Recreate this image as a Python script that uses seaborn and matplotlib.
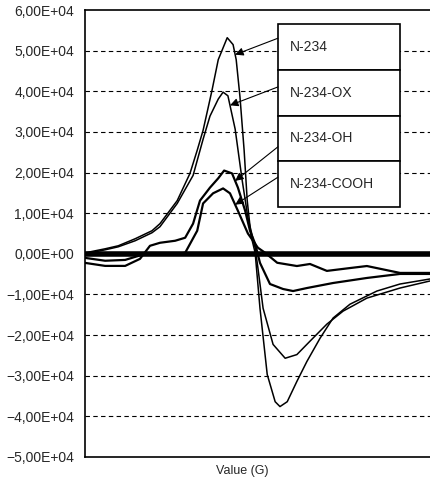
import numpy as np
import pandas as pd
import matplotlib.pyplot as plt
import matplotlib.ticker as mticker
import seaborn as sns

sns.set_style('white')
plt.rcParams['font.family'] = ['Liberation Sans', 'DejaVu Sans']

# Curves (x in arbitrary field units 0-100, y in counts)
n234_x = [0, 5.8, 9.6, 14.5, 19.4, 21.7, 26.7, 30.4, 32.5, 34.2, 35.7, 36.8, 38.6, 41.2, 42.9, 43.8,
          44.9, 46.1, 47.0, 48.1, 49.3, 50.7, 52.8, 55.1, 56.5, 58.6, 61.4, 64.3, 68.1, 71.9, 76.8,
          84.6, 91.3, 100]
n234_y = [250, 1240, 1980, 3710, 5690, 7430, 13100, 19800, 25500, 30400, 36100, 40300, 47800, 53200,
          51500, 47800, 38600, 25500, 13100, 4460, 250, -13400, -29700, -36400, -37600, -36400,
          -31400, -26500, -20800, -15800, -12400, -9160, -7430, -6190]

ox_x = [0, 5.8, 9.6, 14.5, 19.4, 21.7, 26.7, 31.3, 34.2, 36.2, 38.6, 40.0, 41.4, 43.5, 45.5, 47.2,
        49.3, 50.1, 51.6, 54.5, 58.0, 61.4, 65.2, 70.1, 74.8, 81.7, 91.3, 100]
ox_y = [0, 990, 1730, 3220, 5200, 6680, 12400, 19300, 28200, 33900, 38100, 39800, 38900, 30700,
        18300, 8910, 1490, -3470, -13400, -22300, -25700, -24800, -21500, -17300, -14100, -10900,
        -8420, -6680]

oh_x = [0, 5.8, 11.6, 15.9, 18.8, 21.7, 26.1, 29.0, 31.3, 33.3, 36.2, 38.6, 40.3, 42.6, 44.3, 46.4,
        47.8, 49.3, 50.7, 53.6, 57.4, 60.3, 64.3, 71.9, 81.7, 91.3, 100]
oh_y = [-2230, -2970, -2970, -1240, 1980, 2720, 3220, 3960, 7430, 13100, 16300, 18600, 20500, 19800,
        16300, 10600, 5690, 2480, -2230, -7430, -8660, -9160, -8420, -7180, -5940, -4950, -4950]

cooh_x = [0, 5.8, 11.6, 17.4, 24.1, 29.0, 32.5, 34.2, 37.1, 40.0, 42.0, 44.3, 47.2, 50.1, 52.2,
          55.7, 61.4, 65.2, 70.1, 76.8, 81.7, 91.3, 100]
cooh_y = [-1000, -1700, -1500, 0, -250, 250, 5690, 12400, 14900, 16100, 14900, 10600, 5000, 1500,
          250, -2200, -3000, -2500, -4200, -3500, -3000, -4700, -4700]

labels = ['N-234', 'N-234-OX', 'N-234-OH', 'N-234-COOH']
arrow_tip_x = [43.5, 42.0, 43.5, 43.5]
yticks = np.arange(-50000, 60001, 10000)

series = [(n234_x, n234_y), (ox_x, ox_y), (oh_x, oh_y), (cooh_x, cooh_y)]
df = pd.concat([pd.DataFrame({'x': sx, 'y': sy, 'sample': lab})
                for lab, (sx, sy) in zip(labels, series)], ignore_index=True)

fig = plt.figure(figsize=(4.3, 4.8), dpi=100)
ax = fig.add_axes([0.198, 0.048, 0.802, 0.931])

# horizontal dashed grid
for v in yticks[1:-1]:
    if v != 0:
        ax.axhline(v, color='black', lw=0.8, ls=(0, (4, 3)), zorder=1)
ax.axhline(0, color='black', lw=4, zorder=2)

sns.lineplot(data=df, x='x', y='y', hue='sample', size='sample',
             sizes={'N-234': 1.1, 'N-234-OX': 1.1, 'N-234-OH': 1.6, 'N-234-COOH': 1.6},
             palette=['black'] * 4, legend=False, ax=ax, zorder=3)

ax.set_xlim(0, 100)
ax.set_ylim(-50000, 60000)
ax.set_yticks(yticks)
ax.yaxis.set_major_formatter(mticker.FuncFormatter(
    lambda v, p: ('%.2E' % v).replace('.', ',').replace('-', '\u2212')))
ax.set_xticks([])
ax.tick_params(axis='y', length=0, pad=8, labelsize=10)
ax.set_xlabel('Value (G)', fontsize=9)
ax.xaxis.set_label_coords(0.455, -0.018)
ax.set_ylabel('')

for s in ['left', 'bottom', 'top']:
    ax.spines[s].set_color('black')
    ax.spines[s].set_linewidth(1.2)
ax.spines['right'].set_visible(False)

# label box with arrows
tx0, tx1, ty0, ty1 = 0.559, 0.913, 0.559, 0.969
tab = ax.table(cellText=[[l] for l in labels], cellLoc='left',
               bbox=[tx0, ty0, tx1 - tx0, ty1 - ty0], zorder=5)
tab.auto_set_font_size(False)
for cell in tab.get_celld().values():
    cell.set_fontsize(10)
    cell.set_linewidth(1.2)
    cell.set_facecolor('white')

starts_y = [0.937, 0.828, 0.694, 0.626]
for (sx, sy), tip_x, st_y in zip(series, arrow_tip_x, starts_y):
    tip_y = np.interp(tip_x, sx, sy)
    ax.annotate('', xy=(tip_x, tip_y), xycoords='data',
                xytext=(tx0, st_y), textcoords='axes fraction',
                arrowprops=dict(arrowstyle='-|>', color='black', lw=0.8,
                                mutation_scale=12, shrinkA=0, shrinkB=0),
                zorder=6)

fig.savefig('out.png', dpi=100)
